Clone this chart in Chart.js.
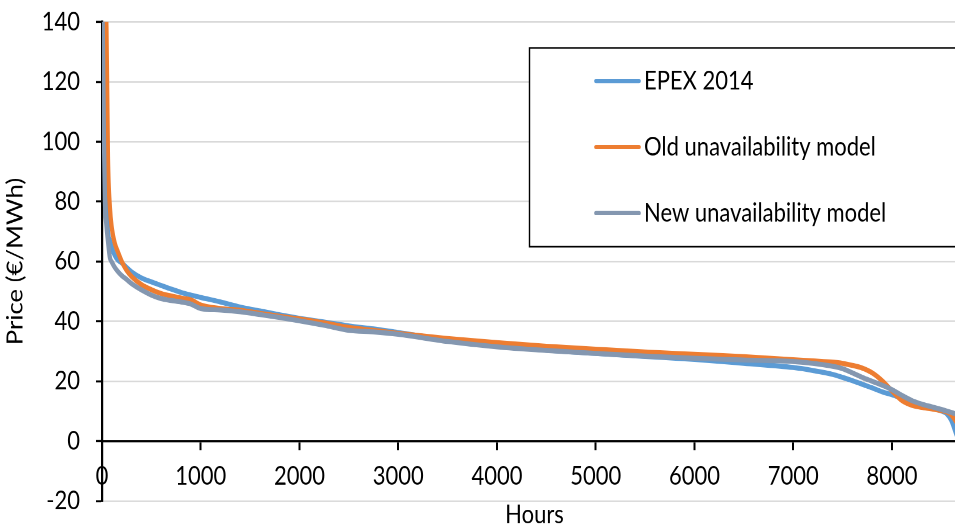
<!DOCTYPE html>
<html>
<head>
<meta charset="utf-8">
<script src="https://cdn.jsdelivr.net/npm/chart.js@4.4.1/dist/chart.umd.min.js"></script>
<style>
  html, body { margin: 0; padding: 0; background: #fff; width: 955px; height: 525px; overflow: hidden; }
  #outer { position: relative; width: 955px; height: 525px; overflow: hidden; }
  #wrap { position: absolute; left: 0; top: 0; width: 1000px; height: 449px; transform: scaleY(1.16927); transform-origin: 0 0; }
</style>
</head>
<body>
<div id="outer"><div id="wrap"><canvas id="c"></canvas></div></div>
<script>
// ---- data ----
const hours = [0, 10, 20, 30, 45, 60, 80, 100, 130, 160,
  200, 250, 300, 400, 500, 600, 700, 800, 900, 1000,
  1200, 1400, 1600, 1800, 2000, 2250, 2500, 2750, 3000, 3500,
  4000, 4500, 5000, 5500, 6000, 6500, 7000, 7200, 7400, 7500,
  7600, 7700, 7800, 7900, 8000, 8100, 8200, 8300, 8400, 8500,
  8550, 8600, 8650, 8700, 8760];

const epex2014 = [150, 135, 112, 95, 80, 70, 67, 64.5, 62, 60.5,
  59.5, 58, 56.5, 54.5, 53.2, 52, 50.8, 49.7, 48.8, 48,
  46.5, 44.8, 43.5, 42.2, 41, 39.8, 38.5, 37.5, 36.3, 33.8,
  31.8, 30.4, 29.3, 28.3, 27.3, 26, 24.6, 23.6, 22.3, 21.3,
  20.2, 19, 17.8, 16.5, 15.5, 14.3, 13.1, 12, 11, 10.1,
  9.3, 7, 2.5, -2, -10];

const oldModel = [160, 155, 150, 146, 138, 95, 78, 71, 66, 63.3,
  60, 57, 55, 52.3, 50.6, 49.3, 48.5, 47.8, 47.2, 45.5,
  44.3, 43.7, 42.7, 41.7, 40.8, 39.5, 38, 37, 36, 34.3,
  32.9, 31.7, 30.7, 29.8, 29, 28.2, 27.2, 26.8, 26.4, 26,
  25.3, 24.4, 22.8, 20.2, 16.8, 13.6, 12, 11.3, 10.8, 10.2,
  9.8, 8.8, 6.5, 4, 1];

const newModel = [155, 132, 100, 80, 72, 67, 61.3, 59.8, 58, 56.7,
  55.3, 54, 52.6, 50.5, 48.8, 47.6, 47, 46.5, 45.8, 44.3,
  43.8, 43.2, 42.3, 41.3, 40.2, 38.7, 37, 36.5, 35.7, 33.3,
  31.5, 30.3, 29.3, 28.4, 27.7, 27.1, 26.6, 26, 25, 24.2,
  22.8, 21.3, 20, 18.7, 17.2, 15.3, 13.6, 12.4, 11.5, 10.6,
  10.1, 9.6, 9, 8, 6.5];

const seriesLabels = ['EPEX 2014', 'Old unavailability model', 'New unavailability model'];
const xTickValues = [0, 1000, 2000, 3000, 4000, 5000, 6000, 7000, 8000];
const yTickValues = [-20, 0, 20, 40, 60, 80, 100, 120, 140];

// ---- chart ----
const FONT = 'Lato, "Open Sans", sans-serif';
const FS = 22;
const colors = ['#5B9BD5', '#ED7D31', '#8497B0'];
const seriesValues = [epex2014, oldModel, newModel];

const boxedLegend = {
  id: 'boxedLegend',
  afterDraw(chart) {
    const ctx = chart.ctx;
    ctx.save();
    const bx = 529.5, by = 41, bw = 470, bh = 170;
    ctx.fillStyle = '#fff';
    ctx.fillRect(bx, by, bw, bh);
    ctx.strokeStyle = '#000';
    ctx.lineWidth = 1.4;
    ctx.strokeRect(bx, by, bw, bh);
    chart.data.datasets.forEach((ds, i) => {
      const y = 69.3 + i * 56.45;
      ctx.strokeStyle = ds.borderColor;
      ctx.lineWidth = 3.6;
      ctx.lineCap = 'round';
      ctx.beginPath();
      ctx.moveTo(596, y);
      ctx.lineTo(639, y);
      ctx.stroke();
      ctx.fillStyle = '#000';
      ctx.font = FS + 'px ' + FONT;
      ctx.textBaseline = 'middle';
      ctx.textAlign = 'left';
      ctx.fillText(ds.label, 644, y);
    });
    ctx.restore();
  }
};

new Chart(document.getElementById('c'), {
  type: 'line',
  data: {
    datasets: seriesValues.map((vals, i) => ({
      label: seriesLabels[i],
      data: hours.map((h, k) => ({ x: h, y: vals[k] })),
      borderColor: colors[i],
      backgroundColor: colors[i],
      borderWidth: 4.3,
      pointRadius: 0,
      cubicInterpolationMode: 'monotone',
      order: 2 - i
    }))
  },
  options: {
    responsive: true,
    maintainAspectRatio: false,
    animation: false,
    devicePixelRatio: 2,
    layout: { padding: { left: 0, top: 18.8, right: 33, bottom: 20.5 } },
    plugins: {
      legend: { display: false },
      tooltip: { enabled: false }
    },
    scales: {
      x: {
        type: 'linear',
        position: { y: 0 },
        min: 0,
        max: 8760,
        afterBuildTicks(scale) { scale.ticks = xTickValues.map(v => ({ value: v })); },
        ticks: {
          font: { family: FONT, size: FS },
          color: '#000',
          padding: 10.2,
          maxRotation: 0,
          autoSkip: false,
          callback: (v) => String(v)
        },
        grid: {
          drawOnChartArea: false,
          drawTicks: true,
          tickLength: 6.8,
          tickColor: '#000',
          tickWidth: 2
        },
        border: { color: '#000', width: 1.8 },
        title: {
          display: true,
          text: 'Hours',
          color: '#000',
          font: { family: FONT, size: FS, lineHeight: 1 },
          padding: { top: -1.5, bottom: 0 }
        }
      },
      y: {
        type: 'linear',
        min: -20,
        max: 140,
        afterBuildTicks(scale) { scale.ticks = yTickValues.map(v => ({ value: v })); },
        afterFit(scale) { scale.width = 102; scale.paddingTop = 0; scale.paddingBottom = 0; },
        ticks: {
          font: { family: FONT, size: FS },
          color: '#000',
          padding: 16,
          callback: (v) => String(v)
        },
        grid: {
          color: '#d9d9d9',
          lineWidth: 1.4,
          drawTicks: true,
          tickLength: 6,
          tickColor: '#000',
          tickWidth: 1.8
        },
        border: { color: '#000', width: 2.2 },
        title: {
          display: true,
          text: 'Price (€/MWh)',
          color: '#000',
          font: { family: FONT, size: FS },
          padding: { top: 2.4, bottom: 0 }
        }
      }
    }
  },
  plugins: [boxedLegend]
});
</script>
</body>
</html>
